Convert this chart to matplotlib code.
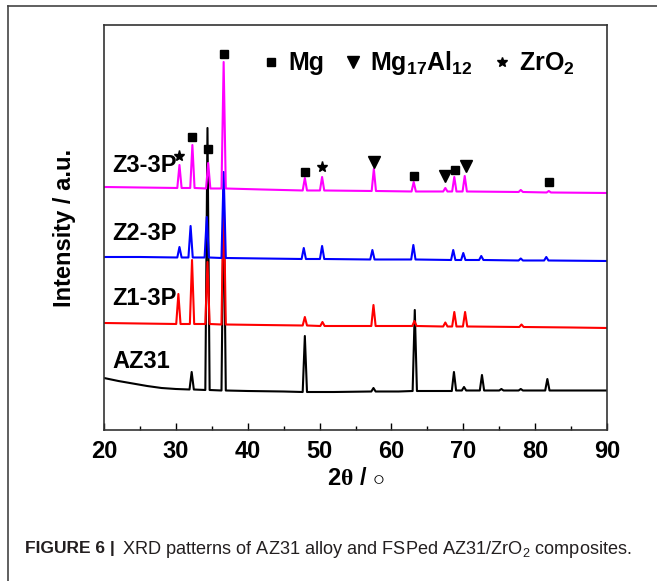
import matplotlib.pyplot as plt
from matplotlib.lines import Line2D
from matplotlib.ticker import MultipleLocator

plt.rcParams['font.family'] = ['Liberation Sans', 'DejaVu Sans']
plt.rcParams['font.weight'] = 'bold'
plt.rcParams['mathtext.fontset'] = 'custom'
plt.rcParams['mathtext.rm'] = 'Liberation Sans:bold'
plt.rcParams['mathtext.it'] = 'Liberation Serif'
plt.rcParams['mathtext.bf'] = 'Liberation Sans:bold'

# XRD patterns (2theta in degrees, intensity in a.u., already stacked)
az31_tt = [20, 22, 24, 26, 28, 30, 31.9, 32.2, 32.5, 34.1, 34.4, 34.7, 36.35, 36.65, 36.95,
           40, 45, 47.65, 47.95, 48.25, 52, 57.2, 57.5, 57.8, 61, 62.95, 63.25, 63.55, 66,
           68.4, 68.7, 69.0, 69.8, 70.1, 70.4, 72.3, 72.6, 72.9, 75.0, 75.3, 75.6,
           77.7, 78, 78.3, 81.4, 81.7, 82.0, 85, 90]
az31_int = [52, 49, 46.5, 44, 42, 41, 40.5, 58, 40.5, 40, 302, 40, 39.5, 240, 39.5,
            39, 38.5, 38, 94, 38, 38, 38.5, 42, 38.5, 38.5, 39, 120, 39, 39,
            39, 58, 39.5, 39.5, 43, 39.5, 39.5, 55, 39.5, 39.5, 41, 39.5,
            39.5, 41, 39.5, 39.5, 51, 39.5, 39.5, 39.5]

z1_tt = [20, 25, 30.05, 30.35, 30.65, 31.95, 32.25, 32.55, 34.1, 34.4, 34.7, 36.35, 36.65, 36.95,
         42, 47.65, 47.95, 48.25, 50.1, 50.4, 50.7, 57.2, 57.5, 57.8, 62.9, 63.2, 63.5,
         67.2, 67.5, 67.8, 68.45, 68.75, 69.05, 69.95, 70.25, 70.55, 77.8, 78.1, 78.4, 85, 90]
z1_int = [107, 106.5, 106, 136, 106, 106, 170, 106, 106, 168, 106, 105.5, 240, 105.5,
          105, 104.5, 113, 104.5, 104, 108, 104, 104, 125, 104, 104, 109, 104,
          103.5, 107.5, 103.5, 103.5, 118, 103.5, 103.5, 118, 103.5, 103, 105.5, 103, 102.5, 102]

z2_tt = [20, 25, 30.2, 30.5, 30.8, 31.75, 32.05, 32.35, 34.0, 34.3, 34.6, 36.35, 36.65, 36.95,
         42, 47.5, 47.8, 48.1, 50.05, 50.35, 50.65, 57.05, 57.35, 57.65, 62.75, 63.05, 63.35,
         68.3, 68.6, 68.9, 69.7, 70.0, 70.3, 72.2, 72.5, 72.8, 77.7, 78, 78.3,
         81.25, 81.55, 81.85, 90]
z2_int = [173, 173, 172.5, 183, 172.5, 172.5, 204, 172.5, 172.5, 213, 172.5, 172, 258, 172,
          171.5, 171, 182, 171, 171, 184, 171, 170.5, 180, 170.5, 170.5, 185, 170.5,
          170, 180, 170, 170, 177, 170, 170, 174, 170, 169.5, 171.5, 169.5,
          169.5, 173, 169.5, 169]

z3_tt = [20, 25, 30.2, 30.5, 30.8, 32.0, 32.3, 32.6, 34.2, 34.5, 34.8, 36.35, 36.65, 36.95,
         42, 47.65, 47.95, 48.25, 50.05, 50.35, 50.65, 57.25, 57.55, 57.85, 62.8, 63.1, 63.4,
         67.2, 67.5, 67.8, 68.45, 68.75, 69.05, 69.9, 70.2, 70.5, 77.7, 78, 78.3,
         81.6, 81.9, 82.2, 90]
z3_int = [243, 242.5, 242, 265, 242, 242, 285, 242, 241.5, 267, 241.5, 241.5, 368, 241.5,
          240.5, 239.5, 252, 239.5, 239.5, 253, 239.5, 239, 261, 239, 238.5, 248, 238.5,
          238.5, 242, 238.5, 238.5, 253, 238.5, 238.5, 254, 238.5, 238, 240, 238,
          237.5, 239, 237.5, 237]

sample_names = ['AZ31', 'Z1-3P', 'Z2-3P', 'Z3-3P']
sample_label_y = [68, 131, 196, 264]

# phase identification marks on the Z3-3P pattern
mg_tt = [32.3, 34.5, 36.7, 47.95, 63.15, 68.8, 81.9]
mg_int = [293, 281, 376, 258, 254, 260, 248]
mg17al12_tt = [57.55, 67.5, 70.35]
mg17al12_int = [268, 254, 264]
zro2_tt = [30.45, 50.35]
zro2_int = [274, 263]


fig = plt.figure(figsize=(6.57, 5.81), dpi=100)
ax = fig.add_axes([0.1583, 0.2599, 0.7656, 0.6971])

ax.plot(az31_tt, az31_int, color='black', lw=1.5)
ax.plot(z1_tt, z1_int, color='#ff0000', lw=1.5)
ax.plot(z2_tt, z2_int, color='#0000ff', lw=1.5)
ax.plot(z3_tt, z3_int, color='#ff00ff', lw=1.5)

ax.plot(mg_tt, mg_int, 's', color='black', ms=6)
ax.plot(mg17al12_tt, mg17al12_int, 'v', color='black', ms=8)
ax.plot(zro2_tt, zro2_int, '*', color='black', ms=8)

for name, yy in zip(sample_names, sample_label_y):
    ax.text(21.2, yy, name, fontsize=17, fontweight='bold', va='center', ha='left')

handles = [Line2D([], [], marker='s', ls='none', color='black', ms=6),
           Line2D([], [], marker='v', ls='none', color='black', ms=8),
           Line2D([], [], marker='*', ls='none', color='black', ms=7)]
labels = ['Mg', r'Mg$\mathregular{_{17}}$Al$\mathregular{_{12}}$', r'ZrO$\mathregular{_2}$']
ax.legend(handles, labels, ncol=3, loc='center left', bbox_to_anchor=(0.3115, 0.905),
          frameon=False, prop={'weight': 'bold', 'size': 18}, handlelength=0.8,
          handletextpad=0.3, columnspacing=0.75, borderaxespad=0, borderpad=0)

ax.set_xlim(20, 90)
ax.set_ylim(0, 405)
ax.set_yticks([])
ax.xaxis.set_major_locator(MultipleLocator(10))
ax.xaxis.set_minor_locator(MultipleLocator(5))
ax.tick_params(axis='x', which='major', direction='in', length=5, width=1, labelsize=17, pad=7)
ax.tick_params(axis='x', which='minor', direction='in', length=3, width=1)
for sp in ax.spines.values():
    sp.set_linewidth(1.2)
    sp.set_color('#333333')

ax.set_xlabel(r'2$\theta$ / $\circ$', fontsize=17, fontweight='bold', labelpad=3)
ax.set_ylabel('Intensity / a.u.', fontsize=17, fontweight='bold', labelpad=20)

# outer frame of the figure panel
fig.add_artist(Line2D([8 / 657, 8 / 657], [0, 1 - 6 / 581], color='#444444', lw=1.2))
fig.add_artist(Line2D([8 / 657, 1], [1 - 6 / 581, 1 - 6 / 581], color='#444444', lw=1.2))

# caption
fig.text(25 / 657, 1 - 549 / 581, 'FIGURE 6 |', fontsize=12.5, fontweight='bold',
         color='#231f20', va='center', ha='left')
fig.text(122 / 657, 1 - 549 / 581, r'XRD patterns of AZ31 alloy and FSPed AZ31/ZrO$\mathregular{_2}$ composites.',
         fontsize=13.1, fontweight='normal', color='#231f20', va='center', ha='left')

fig.savefig('out.png', dpi=100)
